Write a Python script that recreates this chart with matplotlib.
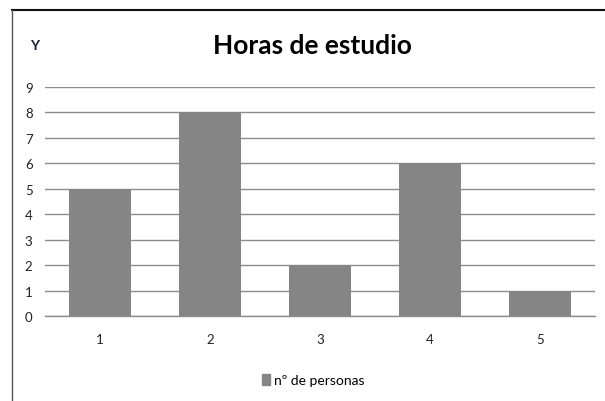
import matplotlib.pyplot as plt
from matplotlib.lines import Line2D
from matplotlib.patches import Patch

plt.rcParams['font.family'] = ['Lato', 'DejaVu Sans']

horas = [1, 2, 3, 4, 5]
personas = [5, 8, 2, 6, 1]
y_ticks = [0, 1, 2, 3, 4, 5, 6, 7, 8, 9]
bar_color = '#858585'

fig = plt.figure(figsize=(6.05, 4.02), dpi=100)
ax = fig.add_axes([45 / 605, 1 - 317 / 402, 550 / 605, 229 / 402])

ax.bar(horas, personas, width=0.56, color=bar_color, zorder=2)
ax.set_xlim(0.5, 5.5)
ax.set_ylim(0, 9)
ax.set_yticks(y_ticks)
ax.set_xticks(horas)
ax.yaxis.grid(True, color='#8c8c8c', linewidth=1, zorder=1)
for s in ['top', 'right', 'left']:
    ax.spines[s].set_visible(False)
ax.spines['bottom'].set_color('#8c8c8c')
ax.spines['bottom'].set_linewidth(1)
ax.tick_params(axis='both', length=0, labelsize=9.5, colors='#222222')
ax.tick_params(axis='y', pad=9)
ax.tick_params(axis='x', pad=12)

fig.text(0.517, 1 - 46 / 402, 'Horas de estudio', ha='center', va='center',
         fontsize=19, fontweight='bold')
fig.text(35 / 605, 1 - 46 / 402, 'Y', ha='center', va='center',
         fontsize=10, fontweight='bold', color='#1a1a3a')

fig.legend(handles=[Patch(color=bar_color, label='nº de personas')],
           loc='center', bbox_to_anchor=(0.518, 1 - 381 / 402), frameon=False,
           fontsize=10, handlelength=0.55, handleheight=0.8, handletextpad=0.3)

# frame of the chart area
fig.add_artist(Line2D([12 / 605, 1], [1 - 11 / 402, 1 - 11 / 402],
                      color='#111111', linewidth=1.5))
fig.add_artist(Line2D([12 / 605, 12 / 605], [0, 1 - 11 / 402],
                      color='#555555', linewidth=1))

fig.savefig('out.png', dpi=100)
